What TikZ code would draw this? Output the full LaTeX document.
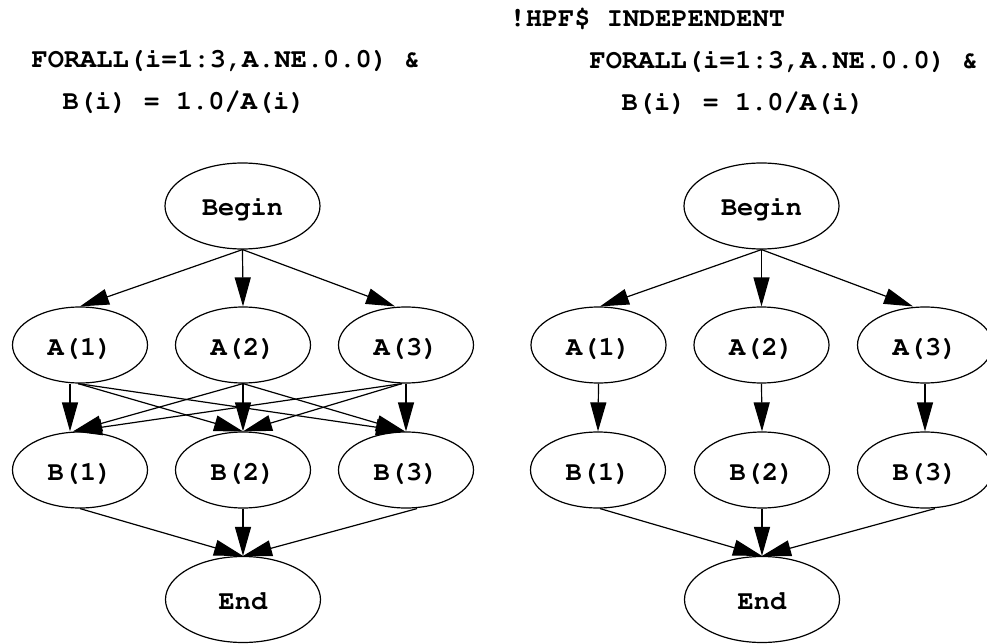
\documentclass[tikz,border=0pt]{standalone}
\usepackage[T1]{fontenc}
\usetikzlibrary{arrows.meta,shapes.geometric}
% bold Courier for all code text
\newcommand{\codefont}{\fontencoding{T1}\fontfamily{pcr}\fontseries{b}\fontshape{n}\fontsize{27}{32}\selectfont}
\begin{document}
\begin{tikzpicture}[x=1pt,y=-1pt,
  line width=1.2pt,
  codetext/.style={inner sep=0pt,anchor=base west,font=\codefont},
  task/.style={ellipse,draw,inner sep=0pt,minimum width=135pt,minimum height=76pt,
               text height=20pt,text depth=0pt,font=\codefont},
  term/.style={task,minimum width=155pt,minimum height=86pt},
  dep/.style={-{Triangle[length=29pt,width=16pt]}}]
\useasboundingbox (0,0) rectangle (987,644);

% ---- headings ----
\node[codetext] (lhead1) at (31,68) {FORALL(i=1:3,A.NE.0.0) \&};
\node[codetext] (lhead2) at (62,110) {B(i) = 1.0/A(i)};
\node[codetext] (rhead0) at (509,27) {!HPF\$ INDEPENDENT};
\node[codetext] (rhead1) at (589,69) {FORALL(i=1:3,A.NE.0.0) \&};
\node[codetext] (rhead2) at (621,111) {B(i) = 1.0/A(i)};

% ---- left graph: plain FORALL ----
\node[term] (LBegin) at (242.5,206) {Begin};
\node[task] (LA1) at (80,345)  {A(1)};
\node[task] (LA2) at (243,345) {A(2)};
\node[task] (LA3) at (406,345) {A(3)};
\node[task] (LB1) at (80,470)  {B(1)};
\node[task] (LB2) at (243,470) {B(2)};
\node[task] (LB3) at (406,470) {B(3)};
\node[term] (LEnd) at (243,599.5) {End};

\draw[dep] (LBegin.south) -- (LA1.north);
\draw[dep] (LBegin.south) -- (LA2.north);
\draw[dep] (LBegin.south) -- ([xshift=-11pt]LA3.north);

\draw[dep] ([xshift=-10pt]LA1.south) -- ([xshift=-10pt]LB1.north);
\draw[dep] ([xshift=-2pt]LA1.south) -- (LB2.north);
\draw[dep] ([xshift=-2pt]LA1.south) -- ([xshift=-1pt]LB3.north);
\draw[dep] (LA2.south) -- ([xshift=-7pt]LB1.north);
\draw[dep] (LA2.south) -- (LB2.north);
\draw[dep] (LA2.south) -- ([xshift=-1pt]LB3.north);
\draw[dep] ([xshift=-4pt]LA3.south) -- ([xshift=-7pt]LB1.north);
\draw[dep] ([xshift=-4pt]LA3.south) -- (LB2.north);
\draw[dep] (LA3.south) -- (LB3.north);

\draw[dep] (LB1.south) -- (LEnd.north);
\draw[dep] (LB2.south) -- (LEnd.north);
\draw[dep] ([xshift=11pt]LB3.south) -- (LEnd.north);

% ---- right graph: INDEPENDENT FORALL ----
\node[term] (RBegin) at (761.5,206) {Begin};
\node[task] (RA1) at (598.5,345) {A(1)};
\node[task] (RA2) at (761.5,345) {A(2)};
\node[task] (RA3) at (925,345)   {A(3)};
\node[task] (RB1) at (598,470)   {B(1)};
\node[task] (RB2) at (762,470)   {B(2)};
\node[task] (RB3) at (925,470)   {B(3)};
\node[term] (REnd) at (762,599.5) {End};

\draw[dep] (RBegin.south) -- ([xshift=1.5pt]RA1.north);
\draw[dep] (RBegin.south) -- (RA2.north);
\draw[dep] (RBegin.south) -- ([xshift=-12pt]RA3.north);

\draw[dep] (RA1.south) -- (RB1.north);
\draw[dep] (RA2.south) -- (RB2.north);
\draw[dep] (RA3.south) -- (RB3.north);

\draw[dep] ([xshift=2pt]RB1.south) -- (REnd.north);
\draw[dep] (RB2.south) -- (REnd.north);
\draw[dep] ([xshift=10pt]RB3.south) -- (REnd.north);
\end{tikzpicture}
\end{document}
